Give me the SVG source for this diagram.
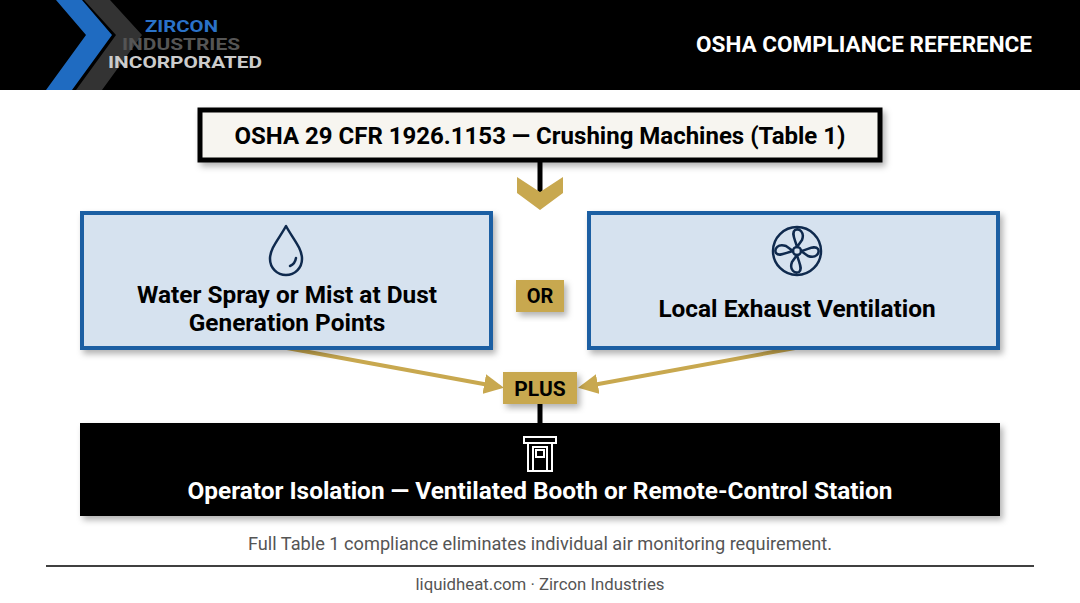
<svg xmlns="http://www.w3.org/2000/svg" width="1080" height="603" viewBox="0 0 1080 603">
<defs>
<style>
.t{font-family:Roboto,"Liberation Sans",sans-serif;font-weight:bold}
.box{fill:#d6e2ef;stroke:#1f5fa3;stroke-width:4}
.ic{fill:none;stroke:#0f2a4e;stroke-width:2.5;stroke-linecap:round;stroke-linejoin:round}
.gold{fill:#c8a84f}
.arr{stroke:#c8a84f;stroke-width:4;fill:none}
</style>
<filter id="sh" x="-10%" y="-10%" width="130%" height="140%"><feDropShadow dx="3" dy="4" stdDeviation="3" flood-opacity="0.3"/></filter>
<marker id="ah" viewBox="0 0 10 10" refX="8" refY="5" markerWidth="5" markerHeight="5" orient="auto"><path d="M0,0L10,5L0,10z" fill="#c8a84f"/></marker>
</defs>
<rect width="1080" height="603" fill="#fff"/>
<g id="header">
<rect width="1080" height="90" fill="#000"/>
<path d="M84,0h26l32,35l-40,55h-26l40,-55z" fill="#333"/>
<path d="M56,0h26l30,35l-40,55h-26l40,-55z" fill="#1f6bc1"/>
<text class="t" x="145" y="32" font-size="16" fill="#2a72c8" textLength="73" lengthAdjust="spacingAndGlyphs">ZIRCON</text>
<text class="t" x="122" y="50" font-size="16" fill="#555" textLength="118" lengthAdjust="spacingAndGlyphs">INDUSTRIES</text>
<text class="t" x="108" y="68" font-size="16" fill="#ccc" textLength="154" lengthAdjust="spacingAndGlyphs">INCORPORATED</text>
<text class="t" x="1032" y="52" font-size="22.5" fill="#fff" text-anchor="end">OSHA COMPLIANCE REFERENCE</text>
</g>
<g id="connectors">
<line x1="540" y1="160" x2="540" y2="192" stroke="#000" stroke-width="5"/>
<path d="M517,177l23,15l23,-15v16l-23,17l-23,-17z" class="gold"/>
<line x1="287" y1="348" x2="500" y2="387" class="arr" marker-end="url(#ah)"/>
<line x1="795" y1="348" x2="582" y2="387" class="arr" marker-end="url(#ah)"/>
<line x1="540" y1="404" x2="540" y2="425" stroke="#000" stroke-width="5"/>
</g>
<g id="title"><rect x="200" y="110" width="680" height="50" fill="#f7f5f0" stroke="#000" stroke-width="5" filter="url(#sh)"/>
<text class="t" x="540" y="144" font-size="24" text-anchor="middle">OSHA 29 CFR 1926.1153 — Crushing Machines (Table 1)</text></g>
<g id="water"><rect x="82" y="213" width="409" height="135" class="box" filter="url(#sh)"/>
<path class="ic" d="M286,226C279,239 270,248 270,259a16,16 0 0 0 32,0C302,248 293,239 286,226z"/>
<path class="ic" d="M290,266q5,-2 6,-8"/>
<text class="t" x="287" y="303" font-size="24.4" text-anchor="middle">Water Spray or Mist at Dust</text>
<text class="t" x="287" y="331" font-size="24.4" text-anchor="middle">Generation Points</text></g>
<g id="or"><rect x="516" y="280" width="48" height="32" class="gold" filter="url(#sh)"/>
<text class="t" x="540" y="303" font-size="20" text-anchor="middle">OR</text></g>
<g id="lev"><rect x="589" y="213" width="409" height="135" class="box" filter="url(#sh)"/>
<circle class="ic" cx="797" cy="251" r="24"/><circle class="ic" cx="797" cy="251" r="4"/>
<path class="ic" d="M797,247c-2,-8 -6,-14 -2,-17c4,-2 10,2 7,10zM801,251c8,-2 14,-6 17,-2c2,4 -2,10 -10,7zM797,255c2,8 6,14 2,17c-4,2 -10,-2 -7,-10zM793,251c-8,2 -14,6 -17,2c-2,-4 2,-10 10,-7z"/>
<text class="t" x="797" y="317" font-size="24.4" text-anchor="middle">Local Exhaust Ventilation</text></g>
<g id="plus"><rect x="503" y="372" width="74" height="32" class="gold" filter="url(#sh)"/>
<text class="t" x="540" y="396" font-size="21" text-anchor="middle">PLUS</text></g>
<g id="operator"><rect x="80" y="423" width="920" height="93" fill="#000" filter="url(#sh)"/>
<g fill="none" stroke="#fff" stroke-width="2"><rect x="524" y="437" width="32" height="6"/><rect x="528" y="443" width="24" height="28"/><rect x="533" y="447" width="14" height="24"/><rect x="536" y="450" width="8" height="7"/></g>
<text class="t" x="540" y="499" font-size="24.4" fill="#fff" text-anchor="middle">Operator Isolation — Ventilated Booth or Remote-Control Station</text></g>
<text x="540" y="550" font-family="Roboto,'Liberation Sans',sans-serif" font-size="18.2" fill="#555" text-anchor="middle">Full Table 1 compliance eliminates individual air monitoring requirement.</text>
<line x1="46" y1="566" x2="1034" y2="566" stroke="#000" stroke-width="1.5"/>
<text x="540" y="590" font-family="Roboto,'Liberation Sans',sans-serif" font-size="16.8" fill="#555" text-anchor="middle">liquidheat.com · Zircon Industries</text>
</svg>
